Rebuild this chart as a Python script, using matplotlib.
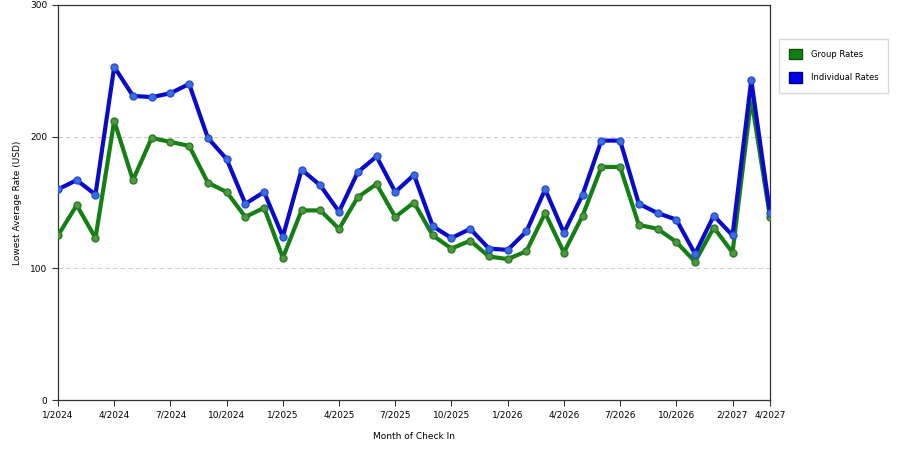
import matplotlib
matplotlib.use("Agg")
from matplotlib import pyplot as plt
from matplotlib.patches import Patch

months = ['1/2024', '2/2024', '3/2024', '4/2024', '5/2024', '6/2024', '7/2024', '8/2024',
          '9/2024', '10/2024', '11/2024', '12/2024', '1/2025', '2/2025', '3/2025', '4/2025',
          '5/2025', '6/2025', '7/2025', '8/2025', '9/2025', '10/2025', '11/2025', '12/2025',
          '1/2026', '2/2026', '3/2026', '4/2026', '5/2026', '6/2026', '7/2026', '8/2026',
          '9/2026', '10/2026', '11/2026', '12/2026', '2/2027', '3/2027', '4/2027']

group_rates = [125, 148, 123, 212, 167, 199, 196, 193, 165, 158, 139, 146, 108, 144, 144,
               130, 154, 164, 139, 150, 125, 115, 121, 109, 107, 113, 142, 112, 140, 177,
               177, 133, 130, 120, 105, 131, 112, 229, 139]
individual_rates = [160, 167, 156, 253, 231, 230, 233, 240, 199, 183, 149, 158, 124, 175, 163,
                    143, 173, 185, 158, 171, 132, 123, 130, 115, 114, 128, 160, 127, 156, 197,
                    197, 149, 142, 137, 111, 140, 125, 243, 142]

tick_labels = ['1/2024', '4/2024', '7/2024', '10/2024', '1/2025', '4/2025', '7/2025',
               '10/2025', '1/2026', '4/2026', '7/2026', '10/2026', '2/2027', '4/2027']

plt.rcParams['font.family'] = ['DejaVu Sans']
fig = plt.figure(figsize=(9, 4.5), dpi=100)
ax = fig.add_axes([58 / 900, 50 / 450, 712 / 900, 395 / 450])

x = list(range(len(months)))
ax.plot(x, group_rates, color='#138013', lw=3, marker='o', ms=5,
        mfc='#4c9a3c', mec='#2f7a2a', mew=1, zorder=3)
ax.plot(x, individual_rates, color='#0a0acc', lw=3, marker='o', ms=5,
        mfc='#3a6ee0', mec='#2a4fd0', mew=1, zorder=4)

ax.set_xlim(0, len(months) - 1)
ax.set_ylim(0, 300)
ax.set_yticks([0, 100, 200, 300])
ticks = [months.index(t) for t in tick_labels]
ax.set_xticks(ticks)
ax.set_xticklabels(tick_labels)
ax.tick_params(labelsize=6.5, direction='out', length=4, width=0.8, color='#333333')
ax.grid(axis='y', ls=(0, (4, 3)), color='#d0d0d0', lw=0.8)
ax.set_axisbelow(True)
for s in ax.spines.values():
    s.set_color('#333333')
    s.set_linewidth(0.9)

ax.set_xlabel('Month of Check In', fontsize=6.5, labelpad=9)
ax.set_ylabel('Lowest Average Rate (USD)', fontsize=6.5, labelpad=6)

handles = [Patch(facecolor='#138013', edgecolor='#0b4f0b', label='Group Rates'),
           Patch(facecolor='#0000ee', edgecolor='#00007a', label='Individual Rates')]
fig.legend(handles=handles, loc='upper left', bbox_to_anchor=(779 / 900, 1 - 39 / 450),
           borderaxespad=0, fontsize=6, frameon=True, fancybox=False, edgecolor='#d0d0d0',
           handlelength=1.5, handleheight=1.5, borderpad=1.2, labelspacing=1.6,
           handletextpad=1.1)

fig.savefig('out.png', dpi=100)
